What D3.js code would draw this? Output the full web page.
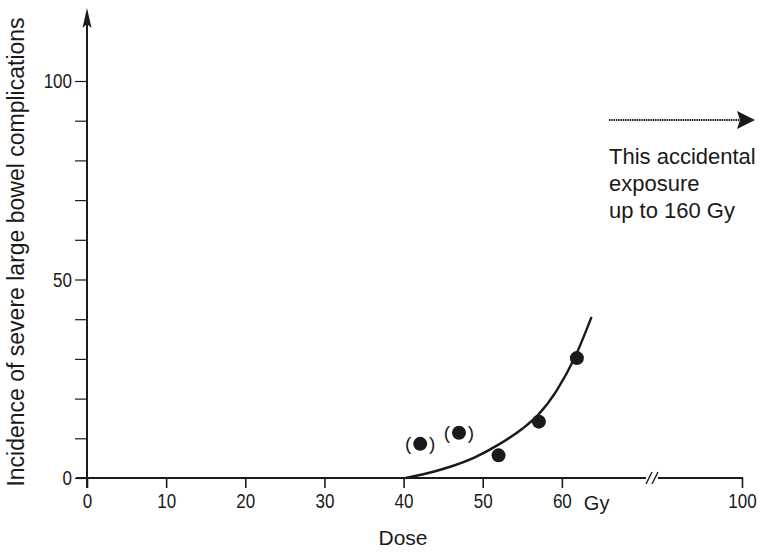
<!DOCTYPE html>
<html>
<head>
<meta charset="utf-8">
<script src="https://cdn.jsdelivr.net/npm/d3@7"></script>
<style>
  html, body { margin: 0; padding: 0; background: #fff; }
  svg { display: block; }
  text { font-family: "Liberation Sans", Arial, sans-serif; fill: #1a1a1a; }
</style>
</head>
<body>
<svg id="chart" width="762" height="552"></svg>
<script>
// ---- data ----
const doseTicks = [0, 10, 20, 30, 40, 50, 60, 100];
const incidenceLabelTicks = [0, 50, 100];
const incidenceMinorTicks = [0, 10, 20, 30, 40, 50, 60, 70, 80, 90, 100];
const pointDose = [42.1, 47.0, 52.0, 57.1, 61.9];
const pointIncidence = [8.6, 11.4, 5.7, 14.2, 30.2];
const pointBracketed = [true, true, false, false, false];
const curveDose = [40.3, 43.0, 46.0, 49.0, 52.0, 55.0, 57.0, 59.3, 61.6, 63.75];
const curveIncidence = [0, 1.2, 2.9, 5.2, 8.4, 12.4, 15.9, 21.9, 30.2, 40.6];
const xTitle = "Dose";
const yTitle = "Incidence of severe large bowel complications";
const unitLabel = "Gy";
const noteLines = ["This accidental", "exposure", "up to 160 Gy"];

// ---- layout ----
const svg = d3.select("#chart");
const ink = "#1a1a1a";
const numSize = 21;
const squeeze = 0.81;
// condensed-looking digits: horizontal scale about the text anchor point
const condense = sel => sel.each(function () {
  const t = d3.select(this);
  const x0 = +t.attr("x") || 0;
  t.attr("x", 0).attr("transform", `translate(${x0},0) scale(${squeeze},1)`);
});
// broken axis: 0..70 linear, then break, then 100
const x = d3.scaleLinear().domain([0, 70, 100]).range([87, 641, 742]);
const y = d3.scaleLinear().domain([0, 100]).range([478, 81]);

// X axis
const xAxis = d3.axisBottom(x).tickValues(doseTicks).tickSize(10).tickPadding(5).tickFormat(d3.format("d"));
const gx = svg.append("g").attr("transform", `translate(0,${y(0)})`).call(xAxis);
gx.select(".domain").remove();
gx.attr("font-family", null).attr("font-size", null);
gx.selectAll(".tick line").attr("stroke", ink).attr("stroke-width", 1.6);
gx.selectAll(".tick text").attr("font-size", numSize).attr("fill", ink).attr("dy", "0.71em").call(condense);

// axis line with break
const breakX = 652;
svg.append("line").attr("x1", 76).attr("x2", breakX - 6).attr("y1", y(0)).attr("y2", y(0))
  .attr("stroke", ink).attr("stroke-width", 2.2);
svg.append("line").attr("x1", breakX + 6).attr("x2", x(100) + 1).attr("y1", y(0)).attr("y2", y(0))
  .attr("stroke", ink).attr("stroke-width", 2.2);
[-3, 3].forEach(o => {
  svg.append("line")
    .attr("x1", breakX + o - 3).attr("y1", y(0) + 6)
    .attr("x2", breakX + o + 3).attr("y2", y(0) - 6)
    .attr("stroke", ink).attr("stroke-width", 1.4);
});

// Gy unit next to 60
svg.append("text").attr("x", x(60) + 22).attr("y", y(0) + 32)
  .attr("font-size", 20).text(unitLabel);

// Y axis
const yAxis = d3.axisLeft(y).tickValues(incidenceMinorTicks).tickSize(12).tickPadding(3)
  .tickFormat(d => incidenceLabelTicks.includes(d) ? d3.format("d")(d) : "");
const gy = svg.append("g").attr("transform", `translate(${x(0)},0)`).call(yAxis);
gy.select(".domain").remove();
gy.attr("font-family", null).attr("font-size", null);
gy.selectAll(".tick line").attr("stroke", ink).attr("stroke-width", 1.2);
gy.selectAll(".tick text").attr("font-size", numSize).attr("fill", ink).call(condense);

const yTop = 24;
svg.append("line").attr("x1", x(0)).attr("x2", x(0)).attr("y1", y(0) + 10).attr("y2", yTop)
  .attr("stroke", ink).attr("stroke-width", 2);
svg.append("path")
  .attr("d", `M${x(0)},8 L${x(0) - 4.5},${yTop + 4} L${x(0)},${yTop} L${x(0) + 4.5},${yTop + 4} Z`)
  .attr("fill", ink);

// titles
svg.append("text").attr("x", 403).attr("y", 545).attr("text-anchor", "middle")
  .attr("font-size", 21).text(xTitle);
svg.append("text").attr("transform", `translate(24,252) rotate(-90)`)
  .attr("text-anchor", "middle").attr("font-size", 23).text(yTitle);

// curve
const line = d3.line().x(d => x(d[0])).y(d => y(d[1])).curve(d3.curveMonotoneX);
svg.append("path").datum(curveDose.map((d, i) => [d, curveIncidence[i]]))
  .attr("d", line).attr("fill", "none").attr("stroke", ink).attr("stroke-width", 2.4);

// points
const pts = pointDose.map((d, i) => ({ d, v: pointIncidence[i], b: pointBracketed[i] }));
svg.selectAll("circle.pt").data(pts).join("circle").attr("class", "pt")
  .attr("cx", p => x(p.d)).attr("cy", p => y(p.v)).attr("r", 7).attr("fill", ink);
pts.filter(p => p.b).forEach(p => {
  svg.append("text").attr("x", x(p.d) - 12).attr("y", y(p.v) + 6.5).attr("text-anchor", "middle")
    .attr("font-size", 19).text("(");
  svg.append("text").attr("x", x(p.d) + 12).attr("y", y(p.v) + 6.5).attr("text-anchor", "middle")
    .attr("font-size", 19).text(")");
});

// annotation arrow
svg.append("line").attr("x1", 609).attr("x2", 740).attr("y1", 120).attr("y2", 120)
  .attr("stroke", ink).attr("stroke-width", 2).attr("stroke-dasharray", "1.5,0.8");
svg.append("path").attr("d", "M755,120 L737,111 L740,120 L737,129 Z").attr("fill", ink);

noteLines.forEach((t, i) => {
  svg.append("text").attr("x", 609).attr("y", 164 + i * 27).attr("font-size", 22).text(t);
});
</script>
</body>
</html>
